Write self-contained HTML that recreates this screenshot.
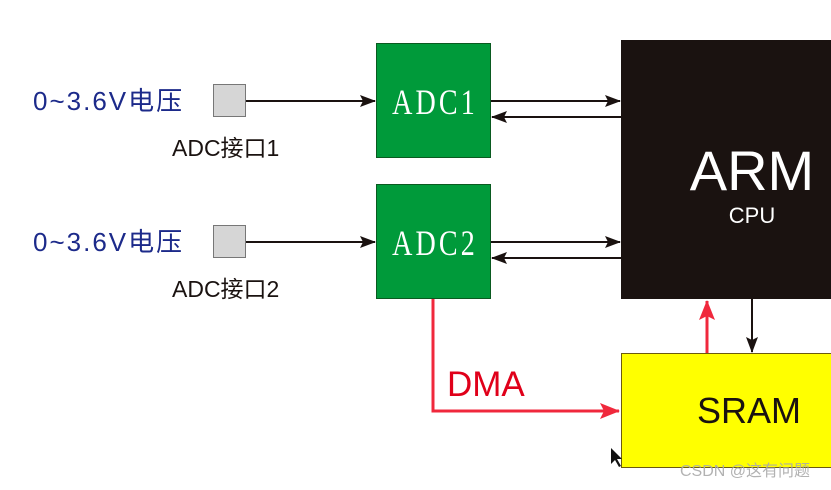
<!DOCTYPE html>
<html><head><meta charset="utf-8"><style>
body{margin:0;background:#fff;}
svg{display:block;}
</style></head><body>
<svg width="831" height="490" viewBox="0 0 831 490" xmlns="http://www.w3.org/2000/svg">
<defs>
<marker id="ab" markerWidth="16" markerHeight="12" refX="15" refY="6" orient="auto" markerUnits="userSpaceOnUse"><path d="M0,0 L16,6 L0,12 L3,6 Z" fill="#1a1210"/></marker>
<marker id="ar" markerWidth="20" markerHeight="16" refX="19" refY="8" orient="auto" markerUnits="userSpaceOnUse"><path d="M0,0 L20,8 L0,16 L4,8 Z" fill="#f0283c"/></marker>
</defs>
<rect width="831" height="490" fill="#fff"/>
<!-- ARM -->
<rect x="621" y="40" width="212" height="259" fill="#1a1210"/>
<text x="752" y="190" fill="#fff" font-family="Liberation Sans, sans-serif" font-size="56" text-anchor="middle">ARM</text>
<text x="752" y="223" fill="#fff" font-family="Liberation Sans, sans-serif" font-size="22" text-anchor="middle">CPU</text>
<!-- SRAM -->
<rect x="621.5" y="353.5" width="212" height="114" fill="#ffff00" stroke="#6b5a10" stroke-width="1"/>
<text x="697" y="423" fill="#1a1210" font-family="Liberation Sans, sans-serif" font-size="36">SRAM</text>
<!-- ADC boxes -->
<rect x="376.5" y="43.5" width="114" height="114" fill="#009a3a" stroke="#0a5a20"/>
<rect x="376.5" y="184.5" width="114" height="114" fill="#009a3a" stroke="#0a5a20"/>
<g font-family="Liberation Serif, serif" font-size="36" fill="#fff" text-anchor="middle" letter-spacing="4">
<text transform="translate(435,114) scale(0.78,1)">ADC1</text>
<text transform="translate(435,255) scale(0.78,1)">ADC2</text>
</g>
<!-- gray squares -->
<rect x="213.5" y="84.5" width="32" height="32" fill="#d6d6d6" stroke="#777"/>
<rect x="213.5" y="225.5" width="32" height="32" fill="#d6d6d6" stroke="#777"/>
<!-- labels -->
<text x="33" y="110" fill="#1c2a8a" font-family="Liberation Sans, 'Noto Sans CJK SC', sans-serif" font-size="26" letter-spacing="2">0~3.6V电压</text>
<text x="33" y="251" fill="#1c2a8a" font-family="Liberation Sans, 'Noto Sans CJK SC', sans-serif" font-size="26" letter-spacing="2">0~3.6V电压</text>
<text x="172" y="156" fill="#1a1210" font-family="Liberation Sans, 'Noto Sans CJK SC', sans-serif" font-size="23">ADC接口1</text>
<text x="172" y="297" fill="#1a1210" font-family="Liberation Sans, 'Noto Sans CJK SC', sans-serif" font-size="23">ADC接口2</text>
<!-- black arrows -->
<g stroke="#1a1210" stroke-width="2" fill="none">
<line x1="246" y1="101" x2="375" y2="101" marker-end="url(#ab)"/>
<line x1="246" y1="242" x2="375" y2="242" marker-end="url(#ab)"/>
<line x1="491" y1="101" x2="620" y2="101" marker-end="url(#ab)"/>
<line x1="621" y1="117" x2="492" y2="117" marker-end="url(#ab)"/>
<line x1="491" y1="242" x2="620" y2="242" marker-end="url(#ab)"/>
<line x1="621" y1="258" x2="492" y2="258" marker-end="url(#ab)"/>
<line x1="752" y1="299" x2="752" y2="352" marker-end="url(#ab)"/>
</g>
<!-- red -->
<g stroke="#f0283c" stroke-width="3" fill="none">
<polyline points="433,299 433,411 619,411" marker-end="url(#ar)"/>
<line x1="707" y1="353" x2="707" y2="301" marker-end="url(#ar)"/>
</g>
<text x="447" y="396" fill="#e0001a" font-family="Liberation Sans, sans-serif" font-size="35">DMA</text>
<!-- cursor -->
<path d="M611,448 L611,464 L615,460 L619,467 L621,466 L617,459 L622,459 Z" fill="#111"/>
<text x="680" y="476" fill="#aaa" font-family="Liberation Sans, 'Noto Sans CJK SC', sans-serif" font-size="16" opacity="0.9">CSDN @这有问题</text>
</svg>
</body></html>
